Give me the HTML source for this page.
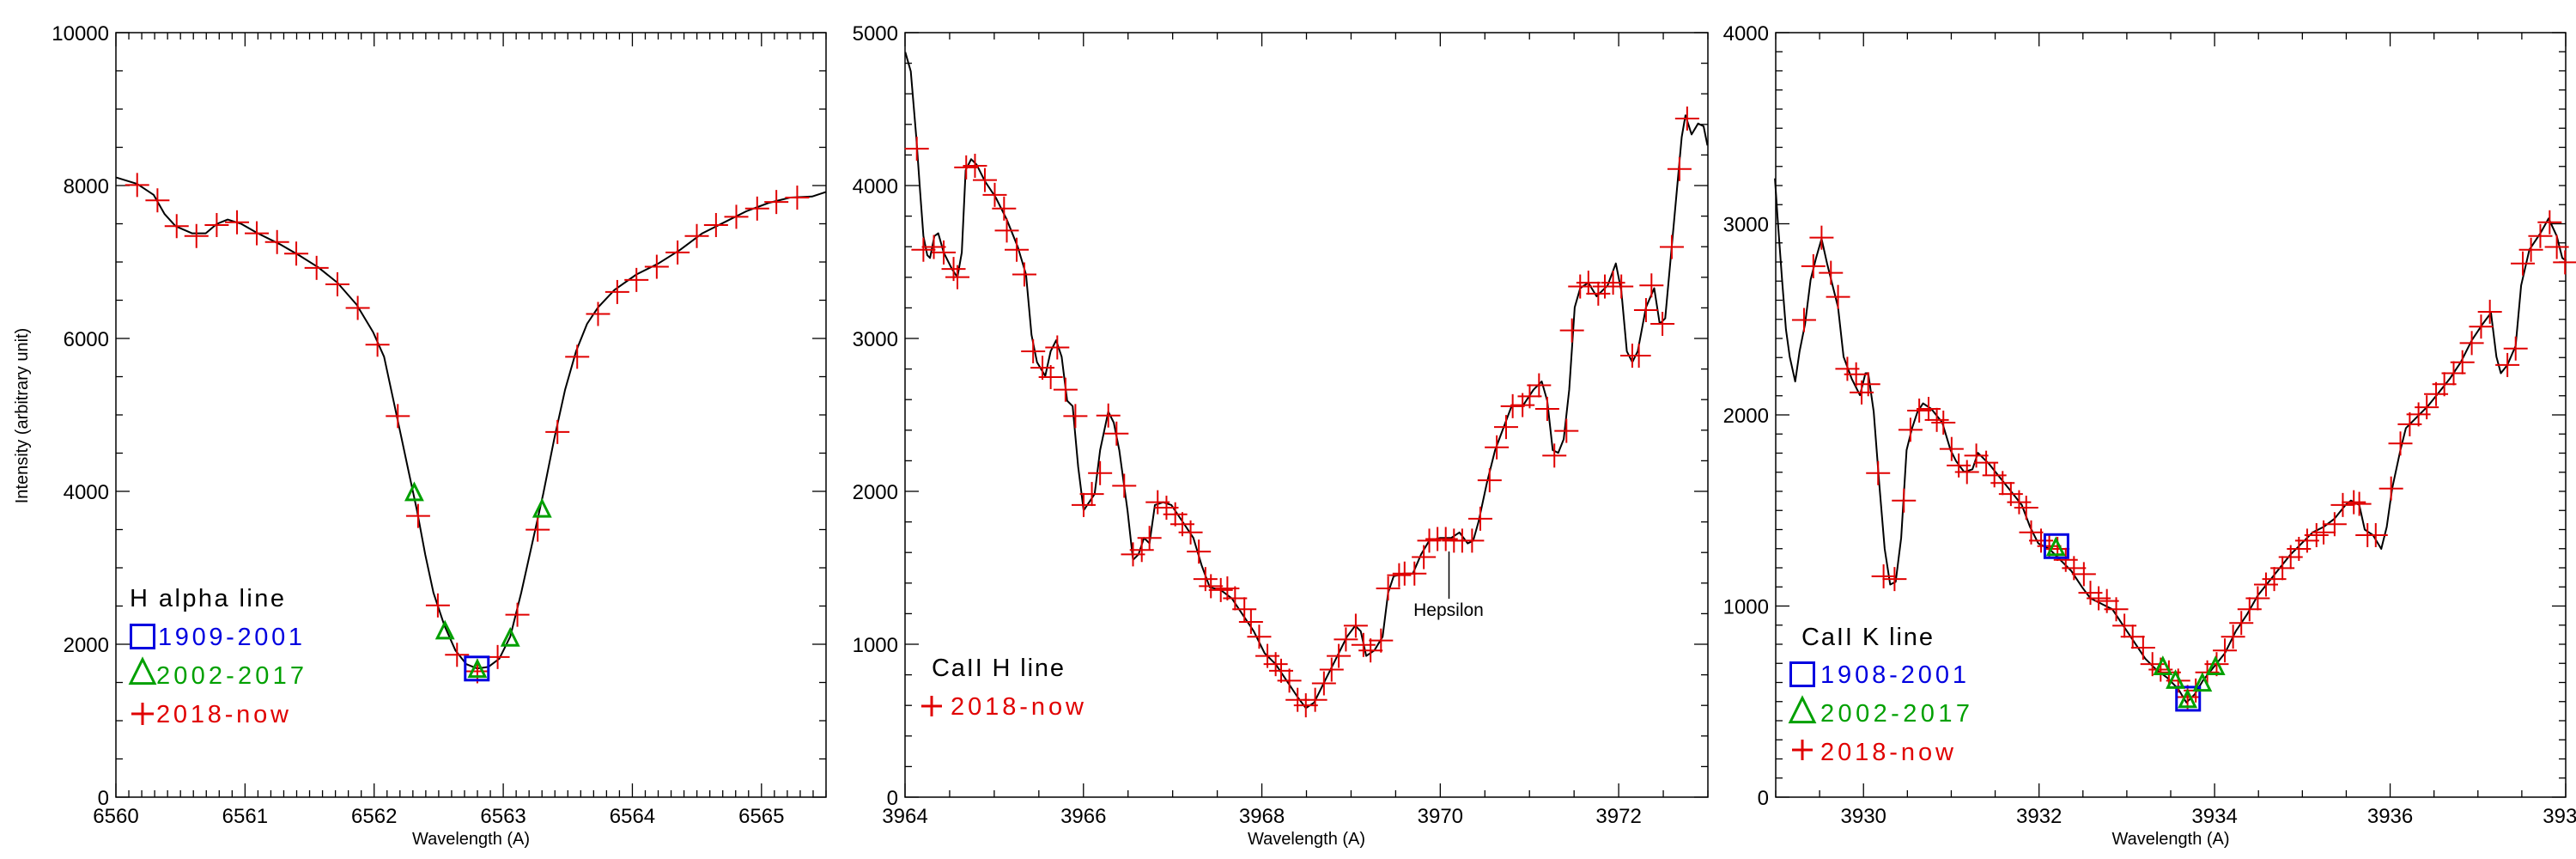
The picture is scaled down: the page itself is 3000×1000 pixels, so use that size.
<!DOCTYPE html>
<html><head><meta charset="utf-8"><style>
html,body{margin:0;padding:0;background:#fff;overflow:hidden;}
svg{display:block;font-family:"Liberation Sans",sans-serif;}
</style></head><body>
<svg id="s" width="3000" height="1000" viewBox="0 0 3000 1000" xmlns="http://www.w3.org/2000/svg"></svg>
<script>
const S=document.getElementById('s');const K=1.565;
let h='';
function ln(x1,y1,x2,y2,c,w){h+=`<line x1="${x1}" y1="${y1}" x2="${x2}" y2="${y2}" stroke="${c}" stroke-width="${w}"/>`;}
function tx(x,y,t,o){h+=`<text x="${x}" y="${y}" ${o||''}>${t}</text>`;}
function axes(p){
 const {x0,x1,y0,y1,xa,xb,ya,yb,xmaj,xmin,ymaj,ymin,lastLabel}=p;
 h+=`<rect x="${x0}" y="${y0}" width="${x1-x0}" height="${y1-y0}" fill="none" stroke="#000" stroke-width="1.5"/>`;
 const X=v=>x0+(v-xa)/(xb-xa)*(x1-x0), Y=v=>y1-(v-ya)/(yb-ya)*(y1-y0);
 for(let v=xa;v<=xb+1e-6;v+=xmin){const x=X(v);const maj=Math.abs(v/xmaj-Math.round(v/xmaj))<1e-4;const L=maj?16:8;ln(x,y1,x,y1-L,'#000',1.3);ln(x,y0,x,y0+L,'#000',1.3);
  if(maj&&(x<x1-5||lastLabel))tx(x,958,Math.round(v),'font-size="24" text-anchor="middle"');}
 for(let v=ya;v<=yb+1e-6;v+=ymin){const y=Y(v);const maj=Math.abs(v/ymaj-Math.round(v/ymaj))<1e-4;const L=maj?16:8;ln(x0,y,x0+L,y,'#000',1.3);ln(x1,y,x1-L,y,'#000',1.3);
  if(maj)tx(x0-8,y+9,Math.round(v),'font-size="24" text-anchor="end"');}
 tx((x0+x1)/2,983,'Wavelength (A)','font-size="20" text-anchor="middle"');
}
function curve(off,pts){h+=`<polyline fill="none" stroke="#000" stroke-width="2" stroke-linejoin="round" points="${pts.map(p=>(off+p[0]/K).toFixed(1)+','+(p[1]/K).toFixed(1)).join(' ')}"/>`;}
function crosses(off,pts,c){pts.forEach(p=>{const x=off+p[0]/K,y=p[1]/K;ln(x-14,y,x+14,y,c||'#e00000',2);ln(x,y-14,x,y+14,c||'#e00000',2);});}
function tri(x,y,s){h+=`<polygon points="${x},${y-s*0.55} ${x-s/2},${y+s*0.45} ${x+s/2},${y+s*0.45}" fill="none" stroke="#00a000" stroke-width="3"/>`;}
function sq(x,y,s){h+=`<rect x="${x-s/2}" y="${y-s/2}" width="${s}" height="${s}" fill="none" stroke="#0000e0" stroke-width="3"/>`;}
function tris(off,pts){pts.forEach(p=>tri(off+p[0]/K,p[1]/K,18));}
function sqs(off,pts){pts.forEach(p=>sq(off+p[0]/K,p[1]/K,27));}

// Panel 1
axes({x0:135,x1:962,y0:38,y1:928,xa:6560,xb:6565.5,ya:0,yb:10000,xmaj:1,xmin:0.1,ymaj:2000,ymin:500});
h+=`<text x="32" y="484" font-size="20" text-anchor="middle" transform="rotate(-90 32 484)">Intensity (arbitrary unit)</text>`;
curve(0,[[211,323],[250,335],[280,355],[300,390],[320,412],[350,425],[375,425],[395,408],[415,400],[440,408],[470,425],[510,445],[545,465],[580,487],[615,515],[650,555],[680,605],[700,650],[715,720],[730,790],[745,860],[760,930],[775,1010],[790,1080],[810,1140],[830,1185],[850,1210],[870,1218],[890,1215],[910,1200],[930,1160],[950,1080],[970,990],[990,900],[1010,800],[1030,710],[1050,640],[1070,590],[1090,560],[1120,528],[1160,500],[1200,480],[1240,455],[1280,425],[1320,405],[1360,385],[1400,370],[1440,360],[1480,358],[1505,350]]);
crosses(0,[[250,337],[287,365],[322,412],[358,430],[395,410],[432,405],[468,425],[505,441],[540,462],[577,488],[615,518],[652,561],[688,628],[725,758],[762,940],[798,1103],[833,1193],[870,1223],[907,1197],[943,1120],[980,965],[1016,787],[1052,650],[1090,572],[1125,532],[1160,510],[1197,486],[1235,460],[1270,430],[1305,410],[1342,395],[1380,380],[1415,368],[1453,360]]);
tris(0,[[755,898],[811,1150],[870,1220],[930,1163],[988,928]]);
sqs(0,[[869,1218]]);
tx(151,706,'H alpha line','font-size="29" textLength="180"');
sq(166,741,27);tx(184,751,'1909-2001','font-size="29" fill="#0000e0" textLength="168"');
tri(166,783,28);tx(182,796,'2002-2017','font-size="29" fill="#00a000" textLength="172"');
ln(153,831,179,831,'#e00000',3);ln(166,818,166,844,'#e00000',3);tx(182,841,'2018-now','font-size="29" fill="#e00000" textLength="154"');

// Panel 2
axes({x0:1054,x1:1989,y0:38,y1:928,xa:3964,xb:3973,ya:0,yb:5000,xmaj:2,xmin:0.5,ymaj:1000,ymin:200});
curve(1000,[[85,95],[95,130],[105,250],[112,350],[118,430],[125,465],[130,470],[138,430],[145,425],[155,460],[170,490],[180,505],[188,460],[195,310],[205,290],[215,300],[230,330],[250,360],[270,400],[290,450],[305,500],[315,610],[325,660],[340,685],[350,640],[360,620],[370,650],[380,730],[390,740],[400,850],[410,930],[420,915],[430,900],[440,820],[455,750],[465,770],[475,820],[490,930],[500,1020],[510,1010],[520,980],[530,990],[540,920],[555,915],[570,920],[590,950],[610,980],[625,1030],[640,1070],[660,1075],[680,1090],[700,1120],[720,1150],[740,1190],[760,1210],[780,1240],[800,1270],[815,1290],[830,1280],[850,1240],[870,1200],[890,1160],[905,1140],[915,1150],[925,1195],[940,1185],[955,1160],[965,1080],[975,1050],[995,1045],[1010,1045],[1025,1010],[1040,985],[1060,980],[1080,980],[1095,970],[1110,990],[1120,985],[1130,950],[1145,880],[1160,820],[1175,780],[1190,740],[1210,740],[1230,710],[1245,695],[1255,730],[1265,820],[1275,825],[1285,800],[1295,710],[1305,560],[1315,525],[1330,515],[1345,540],[1365,520],[1380,480],[1390,530],[1400,640],[1410,660],[1420,640],[1435,560],[1450,525],[1460,590],[1470,580],[1480,470],[1490,360],[1500,250],[1507,210],[1518,245],[1530,225],[1540,230],[1547,265]]);
crosses(1000,[[106,271],[118,455],[137,450],[155,460],[173,490],[180,505],[196,305],[212,302],[230,328],[248,355],[265,380],[270,420],[288,455],[302,500],[318,640],[335,670],[350,687],[362,633],[377,710],[395,758],[410,920],[425,900],[440,862],[455,757],[470,790],[484,885],[500,1010],[516,1002],[530,980],[545,915],[561,925],[577,937],[590,955],[605,970],[620,1005],[632,1055],[642,1068],[660,1075],[672,1072],[686,1090],[703,1110],[715,1133],[730,1160],[745,1195],[760,1210],[770,1222],[785,1240],[800,1275],[815,1285],[832,1275],[848,1245],[862,1220],[875,1195],[888,1165],[906,1140],[920,1175],[933,1185],[952,1167],[965,1072],[985,1048],[995,1045],[1013,1045],[1030,1015],[1040,985],[1055,982],[1070,982],[1085,985],[1100,985],[1118,985],[1133,945],[1150,875],[1163,815],[1180,778],[1192,740],[1210,738],[1223,722],[1240,702],[1255,745],[1268,830],[1290,785],[1300,602],[1315,522],[1330,515],[1348,535],[1360,522],[1375,515],[1390,522],[1410,648],[1422,648],[1445,520],[1435,565],[1465,590],[1482,450],[1496,308],[1510,216]]);
ln(1687.5,642,1687.5,697,'#000',1.5);
tx(1687,717,'Hepsilon','font-size="21" text-anchor="middle"');
tx(1085,787,'CaII H line','font-size="29" textLength="154"');
ln(1073,822,1097,822,'#e00000',3);ln(1085,810,1085,834,'#e00000',3);tx(1107,832,'2018-now','font-size="29" fill="#e00000" textLength="155"');

// Panel 3
axes({x0:2068,x1:2988,y0:38,y1:928,xa:3929,xb:3938,ya:0,yb:4000,xmaj:2,xmin:0.5,ymaj:1000,ymin:100,lastLabel:true});
curve(2000,[[105,325],[110,400],[118,510],[125,600],[132,650],[142,695],[150,640],[160,590],[170,510],[180,470],[190,435],[200,480],[210,520],[220,560],[230,650],[245,690],[260,720],[270,680],[275,680],[285,750],[295,880],[305,1000],[315,1065],[325,1060],[335,980],[345,820],[355,780],[365,750],[375,735],[390,745],[410,770],[425,820],[435,840],[450,860],[465,855],[475,825],[495,845],[515,870],[535,895],[555,920],[570,960],[585,990],[605,1000],[625,1020],[645,1040],[665,1070],[680,1090],[700,1100],[720,1110],[740,1140],[760,1170],[780,1200],[800,1220],[820,1235],[840,1255],[855,1280],[870,1265],[885,1240],[905,1215],[925,1190],[945,1150],[965,1120],[985,1085],[1005,1060],[1025,1035],[1045,1010],[1065,990],[1085,970],[1105,960],[1125,945],[1145,920],[1155,912],[1170,920],[1180,965],[1195,975],[1210,1000],[1220,960],[1230,890],[1245,820],[1255,780],[1275,760],[1295,740],[1315,715],[1335,690],[1355,660],[1375,620],[1395,590],[1410,570],[1420,650],[1428,680],[1440,665],[1455,630],[1465,520],[1480,455],[1500,425],[1515,398],[1530,430],[1540,470],[1547,475]]);
crosses(2000,[[158,583],[175,485],[190,433],[207,497],[220,541],[237,672],[253,682],[263,715],[275,700],[293,862],[303,1050],[323,1055],[340,912],[352,783],[368,748],[385,745],[400,765],[412,770],[427,818],[440,848],[455,860],[472,830],[490,843],[505,866],[520,880],[535,900],[550,915],[563,925],[572,970],[590,985],[605,995],[620,1000],[635,1020],[650,1035],[668,1046],[680,1080],[695,1090],[710,1095],[727,1110],[742,1140],[757,1160],[776,1180],[793,1210],[808,1220],[823,1225],[840,1240],[857,1270],[872,1258],[893,1225],[910,1210],[925,1185],[940,1160],[955,1135],[970,1110],[985,1090],[1000,1065],[1015,1055],[1030,1035],[1045,1015],[1060,1000],[1075,985],[1092,975],[1105,970],[1125,955],[1140,920],[1160,915],[1170,918],[1185,975],[1200,975],[1228,890],[1245,808],[1262,773],[1278,755],[1293,742],[1310,718],[1325,700],[1342,680],[1358,660],[1375,625],[1392,595],[1408,568],[1440,665],[1455,635],[1468,480],[1483,455],[1500,430],[1517,405],[1530,450],[1545,478]]);
sqs(2000,[[618,995],[858,1273]]);
tris(2000,[[617,998],[812,1215],[835,1240],[857,1275],[884,1245],[908,1215]]);
tx(2098,751,'CaII K line','font-size="29" textLength="153"');
sq(2099,785,27);tx(2120,795,'1908-2001','font-size="29" fill="#0000e0" textLength="170"');
tri(2099,828,28);tx(2120,840,'2002-2017','font-size="29" fill="#00a000" textLength="174"');
ln(2087,873,2111,873,'#e00000',3);ln(2099,861,2099,885,'#e00000',3);tx(2120,885,'2018-now','font-size="29" fill="#e00000" textLength="155"');

S.innerHTML=h;
</script>
</body></html>
